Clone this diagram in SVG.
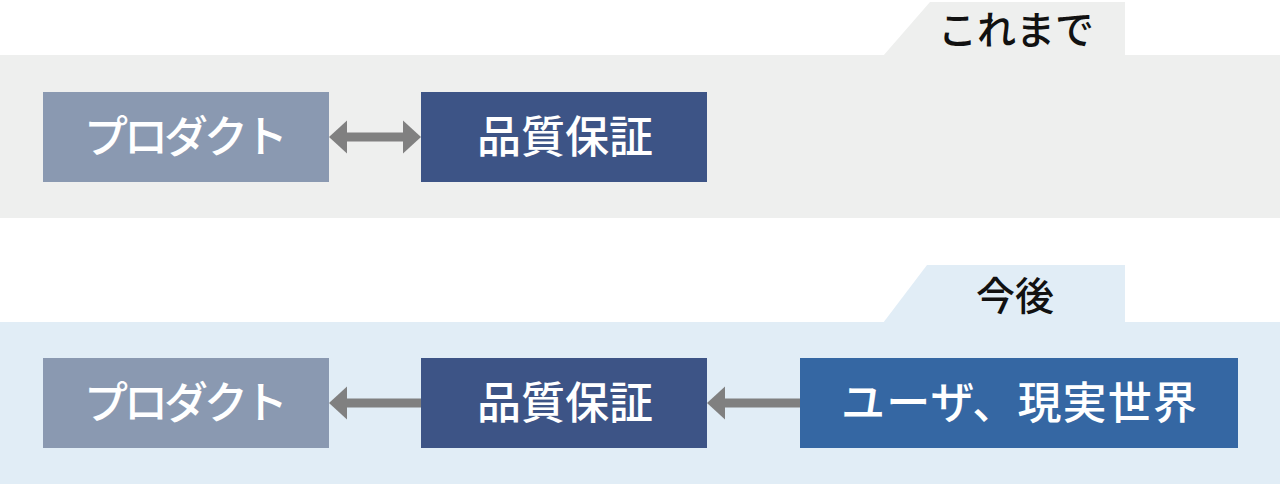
<svg xmlns="http://www.w3.org/2000/svg" width="1280" height="484" viewBox="0 0 1280 484">
<style>
.band1{fill:#eeefee}
.band2{fill:#e1edf6}
.lbl{font-family:"Noto Sans CJK JP","Noto Sans",sans-serif;font-weight:500;font-size:39px;fill:#111;text-anchor:middle}
.bx{font-family:"Noto Sans CJK JP","Noto Sans",sans-serif;font-weight:500;font-size:44px;fill:#fff;text-anchor:middle}
.conn{stroke:#808080;stroke-width:9;fill:none}
</style>
<defs>
<marker id="ah" viewBox="0 -17 18 34" refX="0" refY="0" markerWidth="18" markerHeight="34" markerUnits="userSpaceOnUse" orient="auto-start-reverse">
<path d="M0,-16.5 L18,0 L0,16.5 z" fill="#808080"/>
</marker>
</defs>
<g id="band-before">
<rect class="band1" x="0" y="55" width="1280" height="163"/>
<polygon class="band1" points="883,56 930,2 1125,2 1125,56"/>
<text class="lbl" x="1016" y="44">これまで</text>
</g>
<g id="band-after">
<rect class="band2" x="0" y="322" width="1280" height="162"/>
<polygon class="band2" points="883,323 927,265 1125,265 1125,323"/>
<text class="lbl" x="1015" y="310">今後</text>
</g>
<g id="n1">
<rect x="43" y="92" width="286" height="90" fill="#8a99b1"/>
<text class="bx" x="186" y="153" textLength="204" lengthAdjust="spacing">プロダクト</text>
</g>
<g id="n2">
<rect x="421" y="92" width="286" height="90" fill="#3d5486"/>
<text class="bx" x="565" y="153">品質保証</text>
</g>
<g id="n3">
<rect x="43" y="358" width="286" height="90" fill="#8a99b1"/>
<text class="bx" x="186" y="419" textLength="204" lengthAdjust="spacing">プロダクト</text>
</g>
<g id="n4">
<rect x="421" y="358" width="286" height="90" fill="#3d5486"/>
<text class="bx" x="565" y="419">品質保証</text>
</g>
<g id="n5">
<rect x="800" y="358" width="438" height="90" fill="#3567a3"/>
<text class="bx" x="1019" y="419" textLength="356" lengthAdjust="spacing">ユーザ、現実世界</text>
</g>
<g id="connectors">
<line class="conn" x1="347" y1="137" x2="403" y2="137" marker-start="url(#ah)" marker-end="url(#ah)"/>
<line class="conn" x1="421" y1="403" x2="347" y2="403" marker-end="url(#ah)"/>
<line class="conn" x1="800" y1="403" x2="725" y2="403" marker-end="url(#ah)"/>
</g>
</svg>
